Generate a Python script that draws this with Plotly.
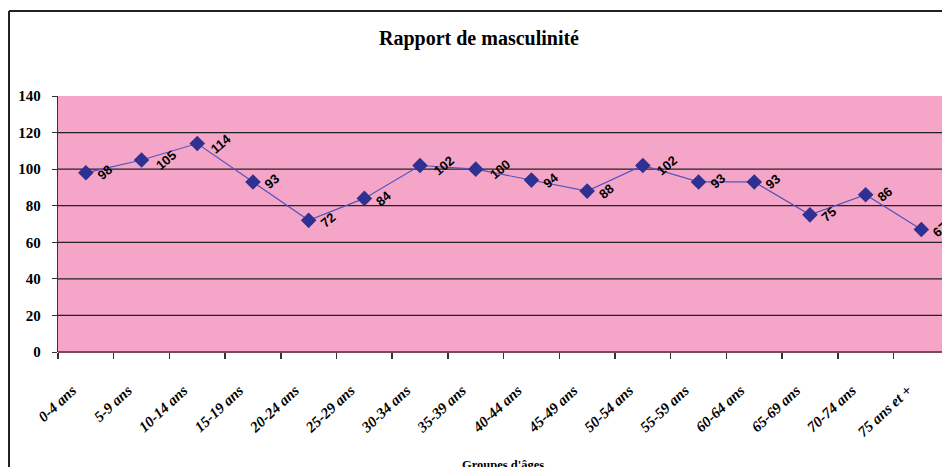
import plotly.graph_objects as go

categories = ["0-4 ans", "5-9 ans", "10-14 ans", "15-19 ans", "20-24 ans", "25-29 ans",
              "30-34 ans", "35-39 ans", "40-44 ans", "45-49 ans", "50-54 ans", "55-59 ans",
              "60-64 ans", "65-69 ans", "70-74 ans", "75 ans et +"]
values = [98, 105, 114, 93, 72, 84, 102, 100, 94, 88, 102, 93, 93, 75, 86, 67]
y_ticks = [0, 20, 40, 60, 80, 100, 120, 140]

W, H = 942, 467
L, R, T, B = 58, 0, 96, 115
pw = W - L - R
ph = H - T - B

fig = go.Figure()
fig.add_trace(go.Scatter(
    x=list(range(len(categories))), y=values, mode="lines+markers",
    line=dict(color="#5454BC", width=1.2),
    marker=dict(symbol="diamond", size=12, color="#2E3192"),
    hoverinfo="skip", cliponaxis=False,
))

annotations = []
for i, v in enumerate(values):
    s = str(v)
    annotations.append(dict(
        x=i, y=v, xref="x", yref="y", text=s, showarrow=False,
        textangle=-40, xshift=9 + 5 * len(s), yshift=0,
        font=dict(family="Liberation Sans, Arial", size=13, color="black", weight="bold"),
    ))

annotations.append(dict(
    x=(503 - L) / pw, y=(352 - 465) / ph, xref="paper", yref="paper",
    text="Groupes d'âges", showarrow=False, yanchor="middle",
    font=dict(family="Liberation Serif, Times New Roman", size=12.5, color="black", weight="bold"),
))

cw = 55.7
x_max = -0.5 + pw / cw

shapes = [
    dict(type="line", xref="paper", yref="paper",
         x0=(9 - L) / pw, x1=(9 - L) / pw, y0=(H - 11 - B) / ph, y1=-B / ph - 0.1,
         line=dict(color="#222222", width=2)),
    dict(type="line", xref="paper", yref="paper",
         x0=(9 - L) / pw, x1=1.1, y0=(H - 11 - B) / ph, y1=(H - 11 - B) / ph,
         line=dict(color="#222222", width=2)),
]
for yv in y_ticks[1:-1]:
    shapes.append(dict(type="line", xref="paper", yref="y", x0=0, x1=1, y0=yv, y1=yv,
                       layer="below", line=dict(color="#222222", width=1.2)))

fig.update_layout(
    width=W, height=H,
    margin=dict(l=L, r=R, t=T, b=B, autoexpand=False),
    paper_bgcolor="white",
    plot_bgcolor="#F5A6C8",
    showlegend=False,
    hovermode=False,
    title=dict(text="<b>Rapport de masculinité</b>", x=479 / W, xanchor="center",
               y=1 - 38 / H, yanchor="middle",
               font=dict(family="Liberation Serif, Times New Roman", size=20, color="black")),
    annotations=annotations,
    shapes=shapes,
)

pad = "\u00a0" * 5
fig.update_xaxes(
    tickmode="array", tickvals=list(range(len(categories))), ticktext=[c + pad for c in categories],
    range=[-0.5, x_max], tickangle=-43, showgrid=False, zeroline=False,
    ticks="", showline=False, automargin=False, ticklabelstandoff=13,
    tickfont=dict(family="Liberation Serif, Times New Roman", size=15, color="black",
                  weight="bold", style="italic"),
    fixedrange=True,
    minor=dict(tickmode="array", tickvals=[i - 0.5 for i in range(len(categories) + 1)],
               ticks="outside", ticklen=6, tickcolor="#333333", tickwidth=1.5),
)

fig.update_yaxes(
    range=[0, 140], tickvals=y_ticks, showgrid=False,
    zeroline=True, zerolinecolor="#7A4A5E", zerolinewidth=2,
    showline=True, linecolor="#333333", linewidth=1.2,
    ticks="outside", ticklen=5, tickcolor="#333333", automargin=False,
    tickfont=dict(family="Liberation Serif, Times New Roman", size=15, color="black", weight="bold"),
    ticklabelstandoff=8,
    fixedrange=True,
)

fig.write_html("out.html", config={"displayModeBar": False, "staticPlot": True},
               post_script="document.body.style.margin='0';")
